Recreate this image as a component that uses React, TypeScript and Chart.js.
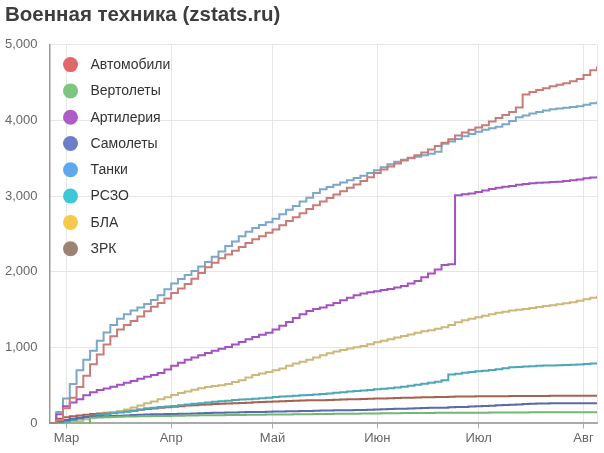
import React, { useEffect, useRef } from "react";
import { Chart, registerables } from "chart.js";

Chart.register(...registerables);

const titleText = "Военная техника (zstats.ru)";

const dates = [
  "2022-02-24", "2022-02-26", "2022-02-28", "2022-03-02", "2022-03-04", "2022-03-06", "2022-03-08", "2022-03-10", "2022-03-12", "2022-03-14",
  "2022-03-16", "2022-03-18", "2022-03-20", "2022-03-22", "2022-03-24", "2022-03-26", "2022-03-28", "2022-03-30", "2022-04-01", "2022-04-03",
  "2022-04-05", "2022-04-07", "2022-04-09", "2022-04-11", "2022-04-13", "2022-04-15", "2022-04-17", "2022-04-19", "2022-04-21", "2022-04-23",
  "2022-04-25", "2022-04-27", "2022-04-29", "2022-05-01", "2022-05-03", "2022-05-05", "2022-05-07", "2022-05-09", "2022-05-11", "2022-05-13",
  "2022-05-15", "2022-05-17", "2022-05-19", "2022-05-21", "2022-05-23", "2022-05-25", "2022-05-27", "2022-05-29", "2022-05-31", "2022-06-02",
  "2022-06-04", "2022-06-06", "2022-06-08", "2022-06-10", "2022-06-12", "2022-06-14", "2022-06-16", "2022-06-18", "2022-06-20", "2022-06-22",
  "2022-06-24", "2022-06-26", "2022-06-28", "2022-06-30", "2022-07-02", "2022-07-04", "2022-07-06", "2022-07-08", "2022-07-10", "2022-07-12",
  "2022-07-14", "2022-07-16", "2022-07-18", "2022-07-20", "2022-07-22", "2022-07-24", "2022-07-26", "2022-07-28", "2022-07-30", "2022-08-01",
  "2022-08-03", "2022-08-05",
];

const monthTickDates = ["2022-03-01", "2022-04-01", "2022-05-01", "2022-06-01", "2022-07-01", "2022-08-01"];
const monthTickLabels = ["Мар", "Апр", "Май", "Июн", "Июл", "Авг"];

const seriesNames = ["Автомобили", "Вертолеты", "Артилерия", "Самолеты", "Танки", "РСЗО", "БЛА", "ЗРК"];

const avtomobili = [
  0, 40, 200, 340, 480, 630, 780, 910, 1040, 1150,
  1240, 1300, 1350, 1410, 1480, 1540, 1590, 1650, 1720, 1780,
  1840, 1910, 1985, 2060, 2120, 2180, 2230, 2280, 2330, 2380,
  2430, 2470, 2515, 2560, 2615, 2670, 2720, 2775, 2830, 2880,
  2930, 2975, 3020, 3065, 3110, 3155, 3200, 3250, 3305, 3350,
  3390, 3430, 3470, 3505, 3540, 3575, 3615, 3660, 3705, 3750,
  3800, 3840, 3875, 3905, 3935, 3985, 4030, 4070, 4110, 4170,
  4340, 4375, 4400, 4425, 4450, 4470, 4490, 4515, 4545, 4600,
  4660, 4710,
];
const vertolety = [
  0, 0, 0, 0, 0, 0, 75, 78, 82, 85,
  88, 90, 92, 93, 95, 97, 98, 99, 100, 102,
  103, 105, 106, 107, 108, 109, 110, 111, 112, 113,
  114, 115, 116, 117, 118, 119, 120, 121, 122, 123,
  124, 125, 126, 127, 128, 129, 130, 131, 132, 133,
  134, 135, 136, 137, 137, 138, 138, 139, 139, 140,
  140, 141, 141, 142, 142, 143, 143, 144, 144, 145,
  145, 146, 146, 147, 147, 147, 147, 148, 148, 148,
  148, 148,
];
const artileriya = [
  0, 120, 225, 275, 320, 370, 410, 440, 460, 485,
  510, 535, 560, 590, 615, 640, 665, 710, 760, 800,
  840, 870, 900, 930, 960, 985, 1010, 1040, 1075, 1110,
  1140, 1170, 1195, 1240, 1290, 1340, 1390, 1440, 1485, 1510,
  1530, 1560, 1590, 1625, 1660, 1690, 1715, 1730, 1745, 1760,
  1775, 1795, 1815, 1845, 1880, 1930, 1980, 2030, 2090, 2100,
  3010, 3025, 3035, 3055, 3075, 3095, 3110, 3125, 3135, 3150,
  3160, 3170, 3175, 3180, 3185, 3190, 3200, 3210, 3220, 3235,
  3245, 3262,
];
const samolety = [
  0, 20, 45, 60, 75, 85, 90, 93, 95, 98,
  100, 105, 110, 114, 118, 120, 122, 124, 125, 126,
  128, 131, 135, 138, 140, 142, 143, 145, 147, 149,
  150, 152, 155, 157, 158, 160, 162, 164, 165, 168,
  170, 171, 172, 174, 175, 177, 178, 180, 183, 187,
  190, 193, 195, 198, 200, 203, 205, 207, 208, 212,
  215, 218, 222, 226, 230, 234, 238, 242, 245, 250,
  255, 259, 262, 264, 266, 267, 267, 267, 267, 267,
  267, 267,
];
const tanki = [
  0, 150, 330, 520, 700, 840, 960, 1090, 1200, 1300,
  1380, 1440, 1490, 1530, 1575, 1630, 1690, 1770, 1845, 1905,
  1960, 2010, 2070, 2130, 2200, 2270, 2340, 2400, 2470, 2530,
  2580, 2620, 2655, 2700, 2760, 2820, 2870, 2930, 2980, 3040,
  3090, 3120, 3150, 3180, 3210, 3240, 3270, 3305, 3340, 3380,
  3420, 3455, 3480, 3500, 3520, 3540, 3560, 3585, 3690, 3720,
  3755, 3790, 3820, 3850, 3875, 3895, 3915, 3950, 3990, 4040,
  4065, 4090, 4110, 4130, 4145, 4155, 4165, 4175, 4185, 4205,
  4225, 4250,
];
const rszo = [
  0, 10, 20, 40, 60, 80, 100, 115, 125, 135,
  145, 155, 165, 185, 200, 208, 215, 222, 230, 240,
  250, 258, 265, 275, 285, 292, 300, 308, 315, 320,
  325, 332, 340, 348, 355, 360, 365, 370, 375, 382,
  388, 396, 405, 412, 420, 428, 435, 442, 450, 458,
  465, 475, 485, 498, 510, 522, 535, 550, 570, 645,
  655, 668, 680, 688, 695, 705, 715, 728, 740, 745,
  750, 755, 760, 763, 765, 768, 770, 774, 778, 784,
  790, 795,
];
const bla = [
  0, 0, 5, 15, 30, 55, 80, 105, 130, 150,
  165, 185, 210, 235, 265, 290, 320, 345, 375, 400,
  420, 445, 465, 480, 495, 505, 520, 545, 570, 605,
  640, 660, 680, 700, 725, 760, 790, 815, 840, 870,
  900, 925, 950, 970, 990, 1005, 1020, 1045, 1070, 1090,
  1110, 1135, 1155, 1175, 1195, 1215, 1230, 1250, 1270, 1300,
  1335, 1360, 1380, 1400, 1420, 1440, 1460, 1475, 1490, 1500,
  1510, 1522, 1535, 1548, 1560, 1572, 1585, 1600, 1620, 1640,
  1660, 1684,
];
const zrk = [
  0, 60, 80, 95, 105, 115, 125, 132, 140, 148,
  155, 162, 170, 180, 190, 198, 205, 212, 220, 228,
  235, 240, 245, 250, 255, 258, 262, 266, 270, 274,
  278, 282, 285, 288, 292, 295, 298, 301, 304, 306,
  307, 310, 312, 315, 318, 320, 322, 325, 328, 330,
  333, 336, 338, 340, 342, 344, 346, 348, 350, 352,
  354, 355, 356, 357, 358, 359, 360, 360, 361, 361,
  362, 362, 363, 363, 364, 364, 365, 365, 365, 366,
  366, 366,
];

const seriesValues = [avtomobili, vertolety, artileriya, samolety, tanki, rszo, bla, zrk];
const lineColors = ["#c97b78", "#72b874", "#a552c0", "#5a6aae", "#7aa8c8", "#4aa8b8", "#cdb878", "#a9614f"];
const legendColors = ["#e06868", "#7cc67f", "#b05cc8", "#6b7fc8", "#5da8ec", "#3ec8d6", "#f8c84a", "#9d8272"];

const FONT = '"Liberation Sans", Arial, Helvetica, sans-serif';

const DAY0 = Date.UTC(2022, 1, 24);
function toDay(s: string): number {
  const [y, m, d] = s.split("-").map(Number);
  return Math.round((Date.UTC(y, m - 1, d) - DAY0) / 86400000);
}

const insideLegend = {
  id: "insideLegend",
  afterDraw(chart: any) {
    const ctx = chart.ctx;
    const area = chart.chartArea;
    ctx.save();
    ctx.font = "14px " + FONT;
    ctx.textBaseline = "middle";
    ctx.textAlign = "left";
    seriesNames.forEach((name, i) => {
      const y = area.top + 20 + i * 26.3;
      const x = area.left + 21;
      ctx.beginPath();
      ctx.arc(x, y, 7.5, 0, Math.PI * 2);
      ctx.fillStyle = legendColors[i];
      ctx.fill();
      ctx.fillStyle = "#333333";
      ctx.fillText(name, x + 20, y + 0.5);
    });
    ctx.restore();
  },
};

export default function App() {
  const ref = useRef<HTMLCanvasElement | null>(null);

  useEffect(() => {
    if (!ref.current) return;
    const xs = dates.map(toDay);
    const monthDays = monthTickDates.map(toDay);
    const maxDay = xs[xs.length - 1];
    const chart = new Chart(ref.current, {
      type: "line",
      data: {
        datasets: seriesNames.map((name, i) => ({
          label: name,
          data: xs.map((x, j) => ({ x, y: seriesValues[i][j] })),
          borderColor: lineColors[i],
          backgroundColor: legendColors[i],
          borderWidth: 2,
          pointRadius: 0,
          pointHoverRadius: 0,
          stepped: true,
          fill: false,
        })),
      },
      options: {
        animation: false,
        responsive: false,
        devicePixelRatio: 1,
        layout: { padding: { left: 5, right: 7, top: 0, bottom: 5 } },
        plugins: {
          legend: { display: false },
          tooltip: { enabled: false },
          title: {
            display: true,
            text: titleText,
            align: "start",
            color: "#3d3d3d",
            font: { family: FONT, size: 20.5, weight: "bold" },
            padding: { top: 3, bottom: 17 },
          },
        },
        scales: {
          x: {
            type: "linear",
            min: 0,
            max: maxDay,
            afterBuildTicks: (scale: any) => {
              scale.ticks = [...monthDays, maxDay].map((v) => ({ value: v }));
            },
            afterFit: (scale: any) => {
              scale.paddingLeft = 0;
              scale.paddingRight = 0;
            },
            ticks: {
              autoSkip: false,
              maxRotation: 0,
              padding: 2,
              color: "#666666",
              font: { family: FONT, size: 13 },
              callback: (v: any) => {
                const idx = monthDays.indexOf(Number(v));
                return idx >= 0 ? monthTickLabels[idx] : "";
              },
            },
            grid: {
              color: "#e6e6e6",
              tickLength: 5,
              tickColor: (c: any) => (c.tick && c.tick.value === maxDay ? "rgba(0,0,0,0)" : "#aaaaaa"),
            },
            border: { color: "#aaaaaa", width: 2 },
          },
          y: {
            min: 0,
            max: 5000,
            afterFit: (scale: any) => {
              scale.width = 44.5;
            },
            ticks: {
              stepSize: 1000,
              padding: 12,
              color: "#666666",
              font: { family: FONT, size: 13 },
              callback: (v: any) => Number(v).toLocaleString("en-US"),
            },
            grid: { color: "#e6e6e6", drawTicks: false },
            border: { color: "#999999", width: 1.5 },
          },
        },
      },
      plugins: [insideLegend],
    });
    return () => chart.destroy();
  }, []);

  return (
    <div style={{ position: "absolute", left: 0, top: 0, width: 604, height: 453, background: "#fff" }}>
      <canvas ref={ref} width={604} height={453} />
    </div>
  );
}
